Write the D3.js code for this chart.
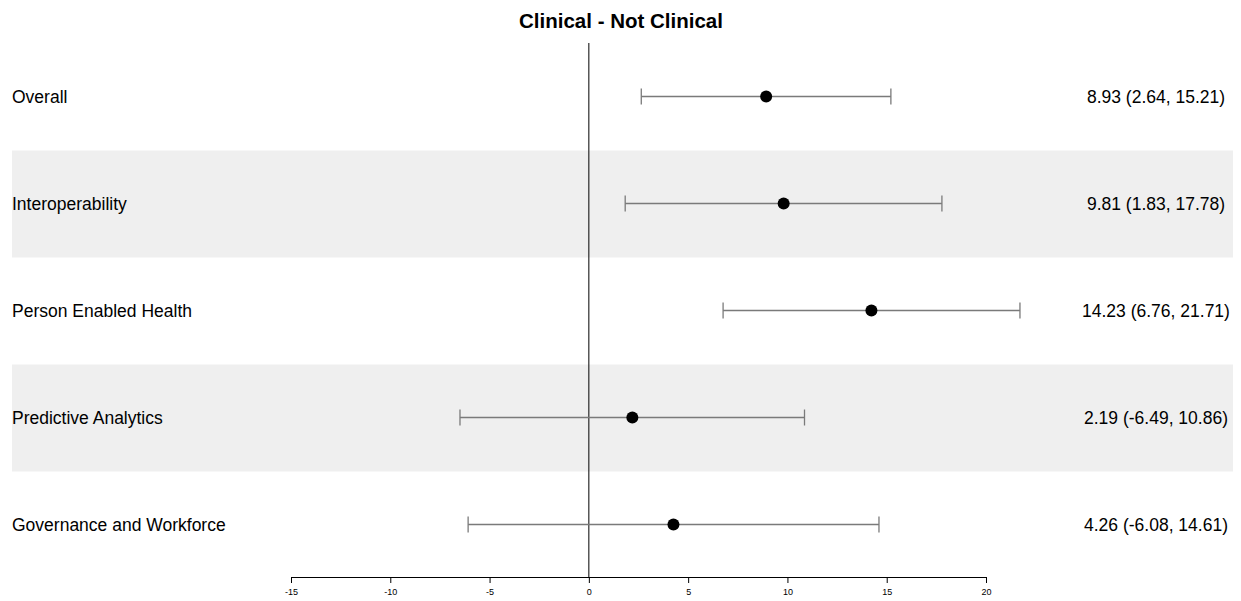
<!DOCTYPE html>
<html>
<head>
<meta charset="utf-8">
<script src="https://cdn.jsdelivr.net/npm/d3@7"></script>
<style>
  html, body { margin: 0; padding: 0; background: #fff; }
  svg { display: block; font-family: "Liberation Sans", Arial, sans-serif; }
</style>
</head>
<body>
<svg id="chart" width="1241" height="601"></svg>
<script>
// Forest plot: difference in scores, Clinical minus Not Clinical
const categories = ["Overall", "Interoperability", "Person Enabled Health", "Predictive Analytics", "Governance and Workforce"];
const estimates = [8.93, 9.81, 14.23, 2.19, 4.26];
const lower = [2.64, 1.83, 6.76, -6.49, -6.08];
const upper = [15.21, 17.78, 21.71, 10.86, 14.61];
const tickValues = [-15, -10, -5, 0, 5, 10, 15, 20];
const title = "Clinical - Not Clinical";

const rows = categories.map((c, i) => ({
  name: c, est: estimates[i], lo: lower[i], hi: upper[i],
  label: `${estimates[i].toFixed(2)} (${lower[i].toFixed(2)}, ${upper[i].toFixed(2)})`
}));

const svg = d3.select("#chart");

const x = d3.scaleLinear().domain([-15, 20]).range([291, 986]);
const y = d3.scaleBand().domain(categories).range([43, 578]).paddingInner(0).paddingOuter(0);

// alternating shaded bands
svg.append("g").selectAll("rect")
  .data(rows.filter((d, i) => i % 2 === 1))
  .join("rect")
  .attr("x", 12).attr("width", 1221)
  .attr("y", d => y(d.name) + 0.5)
  .attr("height", y.bandwidth())
  .attr("fill", "#efefef");

// zero reference line
svg.append("line")
  .attr("x1", x(0)).attr("x2", x(0))
  .attr("y1", 43).attr("y2", 577)
  .attr("stroke", "#000").attr("stroke-width", 1);

// x axis
const axis = svg.append("g")
  .attr("transform", "translate(0,577)")
  .call(d3.axisBottom(x).tickValues(tickValues).tickSize(6).tickSizeOuter(0).tickFormat(d => String(d)));
axis.select(".domain").attr("stroke", "#000");
axis.selectAll(".tick line").attr("stroke", "#000");
axis.selectAll(".tick text")
  .attr("font-size", 9).attr("fill", "#000").attr("dy", "1.0em")
  .attr("font-family", "Liberation Sans, Arial, sans-serif");

const mid = d => y(d.name) + y.bandwidth() / 2;

const g = svg.append("g").selectAll("g").data(rows).join("g");

// confidence intervals
g.append("line")
  .attr("x1", d => x(d.lo)).attr("x2", d => x(d.hi))
  .attr("y1", mid).attr("y2", mid)
  .attr("stroke", "#7a7a7a").attr("stroke-width", 1.3);
g.append("line")
  .attr("x1", d => x(d.lo)).attr("x2", d => x(d.lo))
  .attr("y1", d => mid(d) - 8).attr("y2", d => mid(d) + 8)
  .attr("stroke", "#7a7a7a").attr("stroke-width", 1.3);
g.append("line")
  .attr("x1", d => x(d.hi)).attr("x2", d => x(d.hi))
  .attr("y1", d => mid(d) - 8).attr("y2", d => mid(d) + 8)
  .attr("stroke", "#7a7a7a").attr("stroke-width", 1.3);

// point estimates
g.append("circle")
  .attr("cx", d => x(d.est)).attr("cy", mid)
  .attr("r", 6).attr("fill", "#000");

// row labels
g.append("text")
  .attr("x", 12).attr("y", mid).attr("dy", "0.35em")
  .attr("font-size", 17.5).attr("fill", "#000")
  .text(d => d.name);

// estimate text
g.append("text")
  .attr("x", 1156).attr("y", mid).attr("dy", "0.35em")
  .attr("text-anchor", "middle")
  .attr("font-size", 17.5).attr("fill", "#000")
  .text(d => d.label);

// title
svg.append("text")
  .attr("x", 621).attr("y", 28)
  .attr("text-anchor", "middle")
  .attr("font-size", 20.5).attr("font-weight", "bold").attr("fill", "#000")
  .text(title);
</script>
</body>
</html>
